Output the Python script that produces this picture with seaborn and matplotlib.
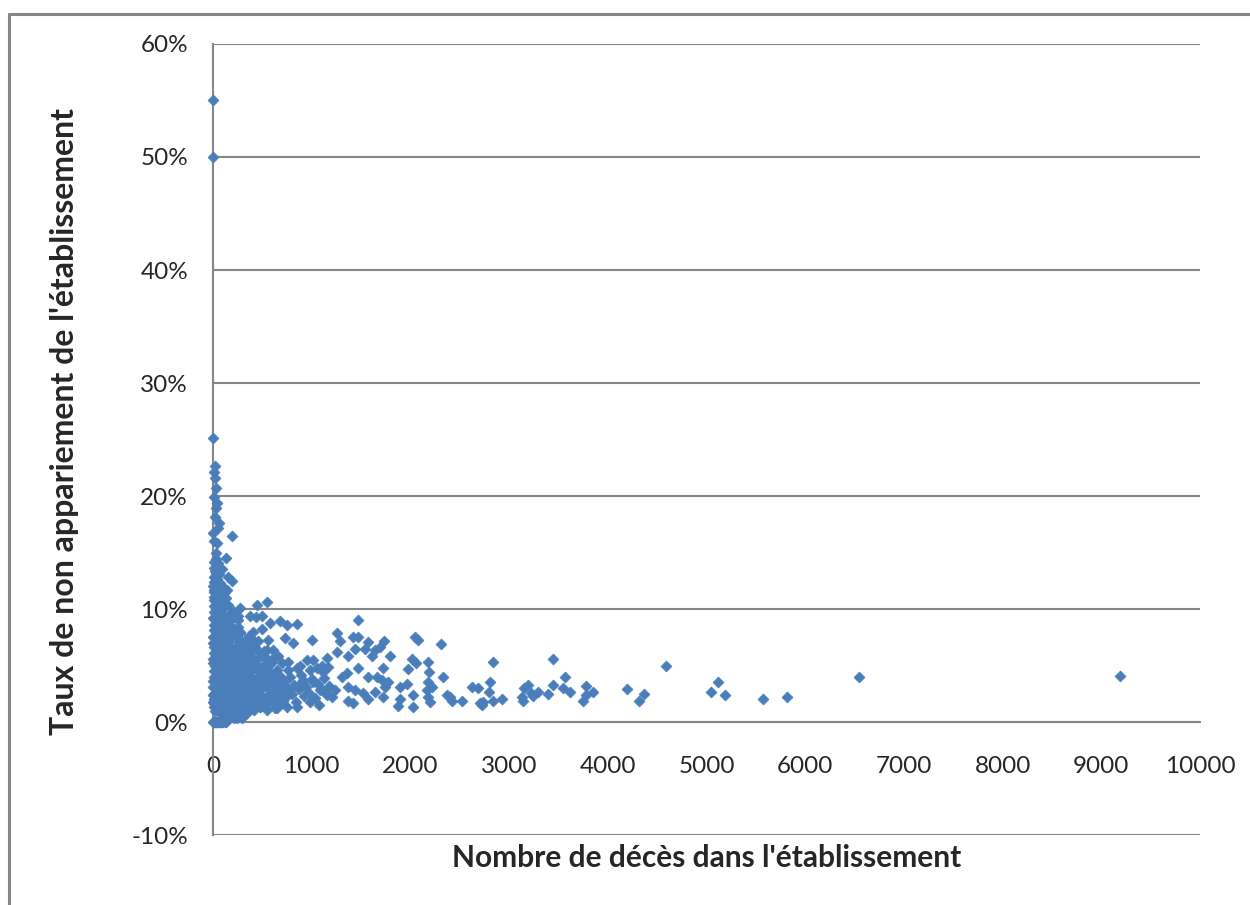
import matplotlib
matplotlib.use("Agg")
import matplotlib.pyplot as plt
from matplotlib.lines import Line2D
from matplotlib.ticker import MultipleLocator, FuncFormatter
import pandas as pd
import seaborn as sns

sns.set_style("white")
plt.rcParams["font.family"] = ["Lato", "DejaVu Sans"]

# establishments with no unmatched deaths
zero_x = [2, 6, 10, 15, 20, 26, 32, 38, 45, 52, 60, 68, 76, 85, 95, 105, 118, 130]
zero_y = [0, 0, 0, 0, 0, 0, 0, 0, 0, 0, 0, 0, 0, 0, 0, 0, 0, 0]

# small establishments with high rates
stem_x = [5, 2, 5, 20, 8, 35, 10, 40, 28, 20, 65, 48, 3, 190, 45, 30, 130, 50, 30, 90,
          150, 190, 12, 70, 140, 15, 150, 25, 55, 8]
stem_y = [55.0, 50.0, 25.1, 22.7, 22.1, 20.7, 19.9, 19.4, 18.9, 18.1, 17.6, 17.2, 16.7, 16.5, 15.8, 15.0,
          14.5, 13.6, 13.2, 13.5, 12.8, 12.5, 12.4, 12.2, 11.7, 11.5, 10.4, 21.6, 14.1, 16.0]

# dense cluster, under 1200 deaths
core_x = [3, 6, 2, 8, 4, 10, 5, 12, 3, 7, 15, 9, 20, 25, 18, 30, 22, 35, 28, 40,
          32, 45, 38, 50, 42, 55, 48, 60, 52, 58, 62, 55, 65, 18, 40, 25, 12, 8, 62, 33,
          70, 80, 75, 90, 85, 95, 72, 100, 88, 105, 78, 110, 120, 115, 130, 125, 140, 118, 135, 145,
          128, 150, 160, 155, 170, 165, 180, 158, 175, 185, 168, 190, 195, 200, 188, 198, 192, 196, 186, 199,
          102, 92, 112, 210, 220, 215, 230, 225, 240, 218, 235, 245, 228, 250, 260, 270, 265, 280, 275, 290,
          268, 285, 295, 278, 300, 310, 305, 320, 315, 330, 308, 325, 335, 345, 340, 350, 338, 348, 342, 255,
          212, 232, 370, 390, 380, 410, 400, 430, 365, 420, 450, 440, 470, 460, 490, 480, 510, 500, 530, 520,
          550, 545, 570, 560, 590, 580, 610, 630, 620, 650, 640, 670, 690, 680, 700, 395, 455, 360, 515, 445,
          550, 275, 255, 375, 435, 495, 170, 575, 680, 850, 750, 405, 495, 1000, 810, 605, 545, 375, 425, 660,
          760, 850, 950, 985, 1155, 1115, 700, 600, 505, 910, 1015, 1085, 1155, 850, 710, 750, 985, 650, 545, 295,
          245, 170, 120, 50, 20, 345, 405, 475, 730, 560, 1105, 1165, 1255, 1285, 1015, 720, 740, 760, 780, 800,
          820, 840, 870, 890, 920, 940, 970, 1000, 1030, 1060, 1090, 1120, 1150, 1180, 760, 880, 1050, 1205, 900, 1075]
core_y = [1.8, 2.0, 3.1, 4.0, 5.2, 6.1, 7.0, 8.1, 9.2, 10.3, 11.1, 1.7, 1.5, 2.6, 3.5, 4.6, 5.7, 6.6, 7.7, 8.6,
          9.7, 10.8, 1.1, 2.1, 3.0, 4.1, 5.0, 6.0, 7.1, 8.3, 9.4, 11.9, 13.1, 13.4, 12.7, 12.0, 14.2, 11.7, 10.6, 14.4,
          1.0, 1.8, 2.7, 3.6, 4.4, 5.3, 6.3, 7.2, 8.0, 8.9, 9.8, 0.8, 1.6, 2.4, 3.3, 4.2, 5.1, 6.0, 6.9, 7.8,
          8.7, 0.6, 1.4, 2.2, 3.1, 4.0, 4.9, 5.8, 6.7, 7.5, 9.6, 0.5, 1.2, 2.0, 2.9, 3.8, 4.7, 5.6, 6.5, 8.3,
          10.9, 12.0, 11.4, 0.4, 1.0, 1.8, 2.6, 3.4, 4.2, 5.0, 5.9, 6.7, 7.6, 8.4, 0.5, 1.2, 2.0, 2.9, 3.7, 4.5,
          5.4, 6.2, 7.1, 7.9, 0.7, 1.5, 2.3, 3.1, 4.0, 4.8, 5.6, 6.5, 7.3, 0.9, 1.9, 2.8, 3.6, 4.4, 5.3, 9.0,
          9.3, 8.1, 1.2, 2.0, 2.9, 3.7, 4.6, 5.4, 6.2, 1.5, 2.4, 3.3, 4.1, 5.0, 5.8, 1.3, 2.2, 3.0, 3.9, 4.7,
          5.6, 1.6, 2.5, 3.4, 4.2, 5.1, 2.0, 2.9, 3.8, 4.6, 1.5, 2.3, 3.3, 4.1, 2.7, 6.8, 7.2, 7.6, 6.3, 10.4,
          10.6, 10.1, 9.4, 9.4, 9.3, 9.4, 9.1, 8.8, 8.9, 8.7, 8.6, 8.0, 8.2, 7.3, 7.0, 6.4, 6.4, 7.1, 6.6, 5.8,
          5.3, 4.8, 5.5, 4.6, 5.7, 4.4, 5.2, 5.3, 4.9, 3.7, 3.5, 2.8, 2.4, 1.3, 1.9, 1.3, 1.8, 1.2, 1.1, 0.4,
          0.4, 0.6, 0.9, 1.3, 1.9, 0.8, 1.2, 1.3, 7.4, 7.3, 5.0, 4.9, 7.9, 7.2, 5.5, 3.5, 2.2, 3.0, 4.0, 2.5,
          3.3, 1.8, 2.9, 4.2, 2.3, 3.1, 2.6, 3.8, 2.1, 3.4, 2.9, 3.9, 2.5, 3.2, 4.6, 5.0, 4.8, 2.2, 3.5, 1.5]

# more of the dense cluster, under 700 deaths
fill_x = [4, 6, 3, 7, 5, 9, 4, 8, 6, 11, 5, 14, 9, 13,
          16, 22, 17, 26, 19, 27, 21, 29, 23, 31, 24, 35, 20, 38,
          44, 56, 46, 62, 49, 66, 53, 68, 57, 72, 60, 75, 45, 70,
          84, 98, 88, 108, 92, 114, 96, 118, 102, 124, 108, 130, 86, 132,
          146, 162, 152, 174, 158, 182, 164, 190, 172, 200, 178, 208, 214, 206,
          226, 238, 248, 258, 266, 272, 282, 292, 302, 312, 318, 298, 288, 262, 244, 236, 252, 274,
          328, 355, 362, 372, 385, 393, 405, 412, 425, 436, 446, 458, 468, 478, 332, 352, 386, 418,
          505, 525, 540, 565, 585, 600, 625, 645, 660, 685, 600, 535, 470]
fill_y = [2.4, 2.5, 3.6, 4.5, 5.6, 6.6, 7.5, 8.6, 9.7, 10.8, 12.0, 12.8, 13.6, 1.3,
          1.0, 2.0, 3.0, 4.0, 5.0, 6.0, 7.0, 8.0, 9.0, 10.0, 11.0, 12.1, 12.8, 13.4,
          1.6, 2.5, 3.6, 4.6, 5.6, 6.6, 7.6, 8.5, 9.6, 10.4, 11.2, 12.3, 6.3, 3.0,
          1.3, 2.2, 3.1, 4.0, 4.9, 5.8, 6.7, 7.6, 8.5, 9.3, 10.2, 11.0, 0.7, 1.0,
          1.9, 2.8, 3.7, 4.6, 5.5, 6.3, 7.2, 8.1, 9.0, 9.8, 0.9, 1.5, 2.4, 3.1,
          3.8, 4.6, 5.4, 6.3, 7.1, 8.0, 1.0, 1.8, 2.6, 3.5, 4.3, 5.2, 6.0, 2.6, 0.7, 1.4, 3.0, 4.3,
          1.2, 1.6, 2.4, 3.2, 4.0, 4.9, 5.7, 6.6, 2.8, 3.7, 4.6, 1.9, 3.5, 2.9, 6.0, 6.8, 7.4, 1.1,
          4.2, 1.8, 3.2, 4.5, 2.1, 3.6, 1.2, 3.3, 2.0, 1.7, 5.6, 5.2, 6.2]

# larger establishments, 1200 deaths and more
tail_x = [1255, 1370, 1420, 1470, 1470, 1440, 1540, 1570, 1640, 1690, 1730, 1610, 1790, 1305, 1355, 1470, 1570, 1660, 1710, 1775,
          1235, 1370, 1440, 1520, 1640, 1740, 1370, 1420, 1570, 1720, 2045, 2075, 2310, 2015, 2055, 2175, 2190, 2330, 2180, 2220,
          2170, 1720, 1975, 1965, 1895, 2025, 1875, 2025, 1895, 2180, 2200, 2370, 2400, 2420, 2520, 2625, 2685, 2705, 2735, 2725,
          2805, 2795, 2835, 2835, 2925, 3130, 3150, 3190, 3140, 3220, 3240, 3290, 3390, 3445, 3445, 3545, 3565, 3615, 3750, 3780,
          3780, 3850, 4195, 4315, 4365, 4590, 5045, 5115, 5185, 5570, 5815, 6545, 9190]
tail_y = [6.2, 5.8, 7.5, 7.5, 9.0, 6.5, 6.5, 7.1, 6.4, 6.6, 7.2, 5.8, 5.8, 4.0, 4.3, 4.8, 4.0, 4.0, 3.7, 3.5,
          2.8, 3.1, 2.8, 2.6, 2.7, 3.1, 1.9, 1.7, 2.0, 2.2, 7.5, 7.3, 6.9, 5.6, 5.2, 5.3, 4.4, 4.0, 3.5, 3.1,
          2.8, 4.8, 4.7, 3.4, 3.1, 2.4, 1.4, 1.3, 2.0, 2.2, 1.8, 2.4, 2.2, 1.9, 1.9, 3.1, 3.0, 1.7, 1.8, 1.5,
          3.5, 2.7, 5.3, 1.9, 2.0, 2.2, 3.0, 3.3, 1.9, 2.6, 2.3, 2.7, 2.5, 3.3, 5.6, 3.0, 4.0, 2.7, 1.9, 2.4,
          3.2, 2.7, 2.9, 1.9, 2.5, 5.0, 2.7, 3.5, 2.4, 2.0, 2.2, 4.0, 4.1]

df = pd.DataFrame({
    "deces": zero_x + stem_x + core_x + fill_x + tail_x,
    "taux": zero_y + stem_y + core_y + fill_y + tail_y,
})

fig = plt.figure(figsize=(12.5, 9.05), dpi=100)
ax = fig.add_axes([0.1704, 0.0773, 0.7896, 0.8741])

sns.scatterplot(data=df, x="deces", y="taux", marker="D", s=32, color="#4A7EBB",
                edgecolor="#4A7EBB", linewidth=0.4, ax=ax, clip_on=False, zorder=3)

ax.set_xlim(0, 10000)
ax.set_ylim(-10, 60)
ax.xaxis.set_major_locator(MultipleLocator(1000))
ax.xaxis.set_minor_locator(MultipleLocator(200))
ax.yaxis.set_major_locator(MultipleLocator(10))
ax.yaxis.set_minor_locator(MultipleLocator(2))
ax.yaxis.set_major_formatter(FuncFormatter(lambda v, _: f"{v:.0f}%"))

grey = "#868686"
ax.grid(axis="y", which="major", color=grey, linewidth=1.5)
ax.set_axisbelow(True)
for side in ["top", "right"]:
    ax.spines[side].set_visible(False)
ax.spines["bottom"].set_position(("data", 0))
ax.spines["bottom"].set_color(grey)
ax.spines["bottom"].set_linewidth(1.5)
ax.spines["left"].set_color(grey)
ax.spines["left"].set_linewidth(1.5)

ax.tick_params(axis="x", which="major", direction="out", length=6.5, width=1.3, color=grey,
               labelsize=17.5, pad=18)
ax.tick_params(axis="x", which="minor", direction="out", length=4, width=1.3, color=grey)
ax.tick_params(axis="y", which="both", direction="out", length=5, width=1.3, color=grey,
               labelsize=17.5, pad=13)

ax.set_xlabel("")
ax.set_ylabel("")
fig.text(0.5656, 0.052, "Nombre de décès dans l'établissement", ha="center", va="center",
         fontsize=21.5, fontweight="bold")
fig.text(0.052, 0.534, "Taux de non appariement de l'établissement", ha="center", va="center",
         rotation=90, fontsize=23, fontweight="bold")

# outer chart border
fig.add_artist(Line2D([0.0072, 0.0072], [0, 0.9845], color=grey, linewidth=2.2))
fig.add_artist(Line2D([0.0072, 1.0], [0.9845, 0.9845], color=grey, linewidth=2.2))

fig.savefig("out.png", dpi=100)
